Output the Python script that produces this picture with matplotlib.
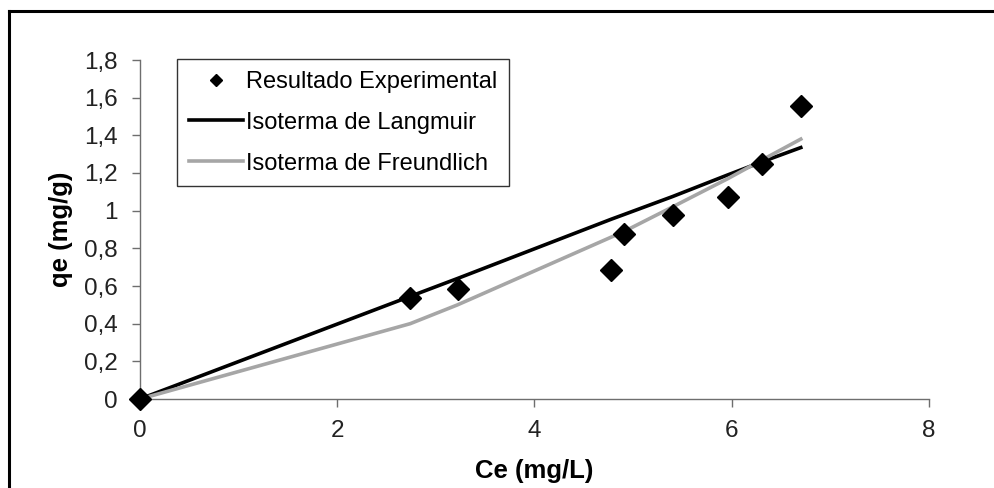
import matplotlib.pyplot as plt
from matplotlib.lines import Line2D

plt.rcParams['font.family'] = ['Liberation Sans', 'DejaVu Sans']

# Ce (mg/L) e qe (mg/g)
ce = [0, 2.74, 3.22, 4.78, 4.91, 5.40, 5.96, 6.31, 6.70]
qe_exp = [0, 0.536, 0.583, 0.686, 0.876, 0.979, 1.073, 1.248, 1.558]
qe_langmuir = [0, 0.545, 0.640, 0.955, 0.980, 1.075, 1.190, 1.260, 1.335]
qe_freundlich = [0, 0.400, 0.500, 0.860, 0.890, 1.020, 1.170, 1.270, 1.380]

fig = plt.figure(figsize=(9.95, 4.88), dpi=100)
ax = fig.add_axes([140 / 995, 1 - 399 / 488, 789 / 995, 339 / 488])

ax.plot(ce, qe_langmuir, color='black', lw=2.6, label='Isoterma de Langmuir', zorder=2)
ax.plot(ce, qe_freundlich, color='#a6a6a6', lw=2.6, label='Isoterma de Freundlich', zorder=2)
ax.plot(ce, qe_exp, ls='none', marker='D', ms=11, color='black',
        label='Resultado Experimental', clip_on=False, zorder=3)

ax.set_xlim(0, 8)
ax.set_ylim(0, 1.8)
ax.set_xticks([0, 2, 4, 6, 8])
ax.set_yticks([0, 0.2, 0.4, 0.6, 0.8, 1, 1.2, 1.4, 1.6, 1.8])
ax.set_yticklabels(['0', '0,2', '0,4', '0,6', '0,8', '1', '1,2', '1,4', '1,6', '1,8'])

for s in ['top', 'right']:
    ax.spines[s].set_visible(False)
for s in ['left', 'bottom']:
    ax.spines[s].set_color('#6e6e6e')
    ax.spines[s].set_linewidth(1)
ax.tick_params(direction='out', length=6, width=1, color='#6e6e6e',
               labelsize=17.5, labelcolor='#222222')
ax.tick_params(axis='y', pad=10)
ax.tick_params(axis='x', pad=9)

ax.set_xlabel('Ce (mg/L)', fontsize=18.5, fontweight='bold', labelpad=12)
ax.set_ylabel('qe (mg/g)', fontsize=18.5, fontweight='bold', labelpad=8)

handles, labels = ax.get_legend_handles_labels()
order = [2, 0, 1]
leg = ax.legend([handles[i] for i in order], [labels[i] for i in order],
                loc='upper left', bbox_to_anchor=(177 / 995, 1 - 59 / 488),
                bbox_transform=fig.transFigure, borderaxespad=0,
                fontsize=17, frameon=True, fancybox=False, edgecolor='black',
                handlelength=2.3, handletextpad=0.12, labelspacing=0.8,
                borderpad=0.5, markerscale=0.55)
leg.get_frame().set_linewidth(1)

# marco externo
fig.add_artist(Line2D([9 / 995, 9 / 995], [0, 1 - 11 / 488], color='black', lw=2.2,
                      transform=fig.transFigure))
fig.add_artist(Line2D([9 / 995, 1], [1 - 11 / 488, 1 - 11 / 488], color='black', lw=2.2,
                      transform=fig.transFigure))

fig.savefig('out.png', dpi=100)
